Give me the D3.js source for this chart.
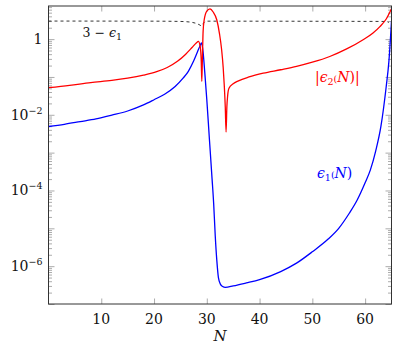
<!DOCTYPE html>
<html>
<head>
<meta charset="utf-8">
<script src="https://cdn.jsdelivr.net/npm/d3@7"></script>
<style>
  body { margin: 0; background: #fff; }
</style>
</head>
<body>
<svg id="chart" width="396" height="348"></svg>
<script>
var FONT = "'DejaVu Serif', 'Liberation Serif', serif";

// epsilon_1(N), blue
var n1 = [0, 3, 6, 9, 12, 15, 18, 20, 22, 24, 25.5, 26.5, 27.5, 28.2, 28.7, 29.0, 29.3, 29.6, 30.0, 30.5,
    31.0, 31.3, 31.6, 31.9, 32.2, 32.6, 33.0, 33.5, 35, 37.5, 40, 44, 47, 50, 53, 55,
    57, 58.5, 60, 61, 62, 63, 64, 64.5, 65];
var eps1 = [4.9e-3, 5.6e-3, 6.6e-3, 7.8e-3, 9.8e-3, 1.26e-2, 1.82e-2, 2.5e-2, 3.5e-2, 5.6e-2, 9.3e-2, 0.141, 0.263, 0.45, 0.66, 0.79, 0.45, 0.14, 0.025, 2.2e-3,
    2.0e-4, 4.5e-5, 6.3e-6, 1.4e-6, 5.0e-7, 3.3e-7, 2.9e-7, 2.75e-7, 3.0e-7, 3.6e-7, 4.4e-7, 7.2e-7, 1.2e-6, 2.4e-6, 5.2e-6, 1.0e-5,
    2.5e-5, 5.6e-5, 1.6e-4, 3.5e-4, 1.1e-3, 5.0e-3, 0.056, 0.25, 3.0];

// |epsilon_2(N)|, red
var n2 = [0, 4, 8, 12, 15, 18, 20.5, 22.5, 24.5, 26, 27.2, 28.0, 28.4, 28.75, 28.95, 29.05, 29.15, 29.3, 29.5,
    30.0, 30.6, 31.2, 31.9, 32.4, 32.8, 33.1, 33.3, 33.5, 33.65, 33.8, 33.95, 34.2, 35, 36,
    38, 40.7, 44, 47, 50, 53.3, 56.5, 59.7, 61.5, 62.8, 64, 65];
var eps2 = [0.052, 0.060, 0.071, 0.081, 0.093, 0.112, 0.138, 0.178, 0.263, 0.40, 0.60, 0.79, 0.87, 0.63, 0.25, 0.076, 0.25, 1.6, 3.2,
    5.5, 6.3, 5.2, 3.2, 1.4, 0.54, 0.18, 0.063, 0.016, 3.5e-3, 0.016, 0.032, 0.050, 0.066, 0.079,
    0.10, 0.126, 0.155, 0.19, 0.245, 0.347, 0.55, 0.98, 1.45, 2.14, 3.4, 6.3];

// 3 - epsilon_1, dashed
var nd = [0, 20, 25, 27, 28, 28.7, 29.0, 29.3, 29.6, 30, 64, 64.5];
var dash = [3.0, 2.98, 2.93, 2.8, 2.6, 2.35, 2.22, 2.55, 2.86, 2.98, 2.93, 2.75];

var xTicks = [10, 20, 30, 40, 50, 60];
var yLabelExp = [0, -2, -4, -6];

var margin = {top: 6, right: 4.5, bottom: 44, left: 48.5};
var width = 396 - margin.left - margin.right;
var height = 348 - margin.top - margin.bottom;

var svg = d3.select('#chart').attr('font-family', FONT);
var g = svg.append('g').attr('transform', 'translate(' + margin.left + ',' + margin.top + ')');

var x = d3.scaleLinear().domain([0, 65]).range([0, width]);
var y = d3.scaleLog().domain([1e-7, 7.5]).range([height, 0]);

// ticks
var minor = [];
var major = [];
for (var e = -7; e <= 0; e++){
    major.push(Math.pow(10, e));
    for (var m = 2; m <= 9; m++){
        var v = m * Math.pow(10, e);
        if (v <= 7.5) minor.push(v);
    }
}

function styleTicks(sel){
    sel.select('.domain').remove();
    sel.selectAll('line').attr('stroke', '#888').attr('stroke-width', 0.7);
}

g.append('g').call(d3.axisLeft(y).tickValues(minor).tickSize(-3.5).tickFormat('')).call(styleTicks);
g.append('g').call(d3.axisLeft(y).tickValues(major).tickSize(-6).tickFormat('')).call(styleTicks);
g.append('g').attr('transform', 'translate(' + width + ',0)')
    .call(d3.axisRight(y).tickValues(minor).tickSize(-3.5).tickFormat('')).call(styleTicks);
g.append('g').attr('transform', 'translate(' + width + ',0)')
    .call(d3.axisRight(y).tickValues(major).tickSize(-6).tickFormat('')).call(styleTicks);
g.append('g').attr('transform', 'translate(0,' + height + ')')
    .call(d3.axisBottom(x).tickValues(xTicks).tickSize(-5.5).tickFormat('')).call(styleTicks);
g.append('g')
    .call(d3.axisTop(x).tickValues(xTicks).tickSize(-5.5).tickFormat('')).call(styleTicks);

// y labels
yLabelExp.forEach(function(p){
    var t = g.append('text')
        .attr('x', -6)
        .attr('y', y(Math.pow(10, p)) + 5)
        .attr('text-anchor', 'end')
        .attr('font-family', FONT)
        .attr('font-size', 14)
        .attr('fill', '#111');
    if (p === 0){
        t.text('1');
    } else {
        t.append('tspan').text('10');
        t.append('tspan').attr('dy', -6).attr('font-size', 9.5).text('\u2212' + (-p));
    }
});

// x labels
xTicks.forEach(function(d){
    g.append('text')
        .attr('x', x(d))
        .attr('y', height + 20)
        .attr('text-anchor', 'middle')
        .attr('font-family', FONT)
        .attr('font-size', 14)
        .attr('fill', '#111')
        .text(d);
});
g.append('text')
    .attr('x', x(32.5))
    .attr('y', height + 37)
    .attr('text-anchor', 'middle')
    .attr('font-family', FONT)
    .attr('font-size', 15)
    .attr('font-style', 'italic')
    .attr('fill', '#111')
    .text('N');

// clip
svg.append('defs').append('clipPath').attr('id', 'clip')
    .append('rect').attr('width', width).attr('height', height);

var plot = g.append('g').attr('clip-path', 'url(#clip)');

function lineFor(ns){
    return d3.line()
        .x(function(d, i){return x(ns[i])})
        .y(function(d){return y(d)})
        .curve(d3.curveMonotoneX);
}

plot.append('path').datum(dash)
    .attr('d', lineFor(nd))
    .attr('fill', 'none')
    .attr('stroke', '#000')
    .attr('stroke-width', 0.8)
    .attr('stroke-dasharray', '3,3');

plot.append('path').datum(eps1)
    .attr('d', lineFor(n1))
    .attr('fill', 'none')
    .attr('stroke', '#0000ff')
    .attr('stroke-width', 1.3);

plot.append('path').datum(eps2)
    .attr('d', lineFor(n2))
    .attr('fill', 'none')
    .attr('stroke', '#ff0000')
    .attr('stroke-width', 1.3);

// frame
g.append('rect')
    .attr('width', width).attr('height', height)
    .attr('fill', 'none')
    .attr('stroke', '#333')
    .attr('stroke-width', 1);

// curve labels
function mathLabel(px, py, color, parts){
    var t = svg.append('text')
        .attr('x', px).attr('y', py)
        .attr('font-family', FONT)
        .attr('font-size', 14)
        .attr('fill', color);
    parts.forEach(function(p){
        var s = t.append('tspan').text(p.s);
        if (p.it) s.attr('font-style', 'italic');
        if (p.sub) s.attr('font-size', 9.5).attr('dy', p.sub);
        if (p.fs) s.attr('font-size', p.fs);
    });
    return t;
}

mathLabel(82.5, 36.5, '#111', [
    {s: '3 \u2212 ', fs: 12.5}, {s: '\u03f5', it: true, fs: 12.5}, {s: '1', sub: 3}
]);
mathLabel(315, 82, '#ff0000', [
    {s: '|'}, {s: '\u03f5', it: true}, {s: '2', sub: 3}, {s: '(', sub: -3}, {s: 'N', it: true}, {s: ')|'}
]);
mathLabel(317, 178, '#0000ff', [
    {s: '\u03f5', it: true}, {s: '1', sub: 3}, {s: '(', sub: -3}, {s: 'N', it: true}, {s: ')'}
]);
</script>
</body>
</html>
